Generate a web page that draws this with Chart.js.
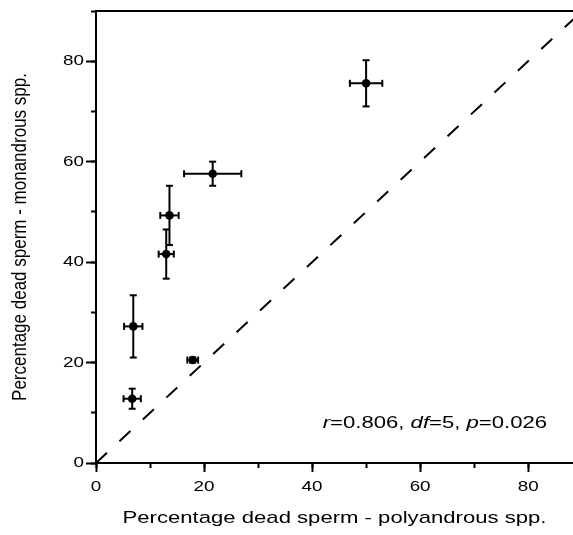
<!DOCTYPE html>
<html>
<head>
<meta charset="utf-8">
<script src="https://cdn.jsdelivr.net/npm/chart.js@4.4.1/dist/chart.umd.min.js"></script>
<style>
  html, body { margin: 0; padding: 0; background: #fff; }
  #grafico { display: block; }
</style>
</head>
<body>
<canvas id="grafico" width="573" height="535"></canvas>
<script>
// Espermatozoides mortos (%) — média e erro de cada par de espécies
const poliandricas = [50.0, 21.6, 13.6, 13.0, 6.9, 17.9, 6.7];
const monandricas  = [75.6, 57.6, 49.3, 41.6, 27.2, 20.5, 12.8];
const erroX = [3.0, 5.3, 1.7, 1.4, 1.7, 1.0, 1.6];
const erroY = [4.6, 2.4, 5.9, 4.9, 6.2, 0.5, 2.0];
const linhaIgual = [0, 90];          // reta y = x
const limiteX = [0, 88.3];
const limiteY = [0, 90];
const passoRotulo = 20;              // ticks com número
const passoMenor = 10;               // ticks intermediários

const FONTE = "'Liberation Sans', Arial, sans-serif";
const ESTICA = 1.3;       // no original o texto sai mais largo do que alto
const ESTICA_GIRADO = 1.15;

// Helper: estica o texto na horizontal da tela
const esticaTexto = {
  id: 'esticaTexto',
  beforeInit(chart) {
    const ctx = chart.ctx;
    const orig = ctx.fillText;
    ctx.fillText = function (txt, x, y) {
      const m = this.getTransform();
      this.save();
      this.translate(x, y);
      // texto girado (título do eixo y): o eixo local y é o x da tela
      if (Math.abs(m.b) > 0.5) this.scale(1, ESTICA_GIRADO);
      else this.scale(ESTICA, 1);
      orig.call(this, txt, 0, 0);
      this.restore();
    };
  }
};

// Linha de cima da moldura
const bordaTopo = {
  id: 'bordaTopo',
  afterDraw(chart) {
    const { ctx, chartArea: a } = chart;
    ctx.save();
    ctx.strokeStyle = '#000';
    ctx.lineWidth = 2;
    ctx.beginPath();
    ctx.moveTo(a.left, a.top);
    ctx.lineTo(a.right, a.top);
    ctx.stroke();
    ctx.restore();
  }
};

// Texto da correlação, com r, df e p em itálico
const anotacao = {
  id: 'anotacao',
  afterDraw(chart) {
    const { ctx, chartArea: a } = chart;
    const partes = [['r', true], ['=0.806, ', false], ['df', true], ['=5, ', false], ['p', true], ['=0.026', false]];
    const fonte = it => (it ? 'italic ' : '') + '17px ' + FONTE;
    ctx.save();
    ctx.fillStyle = '#000';
    ctx.textAlign = 'left';
    ctx.textBaseline = 'alphabetic';
    let total = 0;
    partes.forEach(([t, it]) => { ctx.font = fonte(it); total += ctx.measureText(t).width * ESTICA; });
    let x = a.right - 26 - total;
    const y = a.bottom - 35;
    partes.forEach(([t, it]) => {
      ctx.font = fonte(it);
      ctx.fillText(t, x, y);
      x += ctx.measureText(t).width * ESTICA;
    });
    ctx.restore();
  }
};

const datasets = [];

// Reta tracejada y = x
datasets.push({
  data: linhaIgual.map(v => ({ x: v, y: v })),
  showLine: true,
  borderColor: '#000',
  borderWidth: 2,
  borderDash: [15, 17],
  pointRadius: 0
});

// Barras de erro: cada uma é uma linha de dois pontos, o "ponto" vira a trava
poliandricas.forEach((x, i) => {
  const y = monandricas[i];
  const base = {
    showLine: true,
    borderColor: '#000',
    borderWidth: 2,
    pointStyle: 'line',
    pointRadius: 3.5,
    pointBorderWidth: 2,
    pointBorderColor: '#000'
  };
  datasets.push({ ...base, data: [{ x, y: y - erroY[i] }, { x, y: y + erroY[i] }], pointRotation: 0 });
  datasets.push({ ...base, data: [{ x: x - erroX[i], y }, { x: x + erroX[i], y }], pointRotation: 90 });
});

// Médias
datasets.push({
  data: poliandricas.map((x, i) => ({ x, y: monandricas[i] })),
  pointRadius: 4.3,
  pointBackgroundColor: '#000',
  pointBorderWidth: 0
});

const eixoMenor = (pos, lim, lado) => ({
  type: 'linear',
  position: pos,
  min: lim[0],
  max: lim[1],
  weight: 0,
  afterFit: s => { s[lado] = 0; },
  ticks: { stepSize: passoMenor, includeBounds: false, autoSkip: false, callback: () => '' },
  grid: { drawOnChartArea: false, tickLength: 5, tickWidth: 2, tickColor: '#000' },
  border: { display: false }
});

new Chart(document.getElementById('grafico'), {
  type: 'scatter',
  data: { datasets },
  plugins: [esticaTexto, bordaTopo, anotacao],
  options: {
    responsive: false,
    animation: false,
    events: [],
    layout: { autoPadding: false, padding: { top: 11, right: 0, left: 0, bottom: 0 } },
    plugins: { legend: { display: false }, tooltip: { enabled: false } },
    scales: {
      x: {
        type: 'linear',
        position: 'bottom',
        min: limiteX[0],
        max: limiteX[1],
        weight: 1,
        afterFit: s => { s.height = 72; },
        ticks: {
          stepSize: passoRotulo, includeBounds: false, autoSkip: false, maxRotation: 0,
          color: '#000', padding: 6, font: { family: FONTE, size: 14.5 }
        },
        grid: { drawOnChartArea: false, tickLength: 9, tickWidth: 2, tickColor: '#000' },
        border: { display: true, color: '#000', width: 2 },
        title: {
          display: true, text: 'Percentage dead sperm - polyandrous spp.', color: '#000',
          font: { family: FONTE, size: 17 }, padding: { top: 0, bottom: 6 }
        }
      },
      xMenor: eixoMenor('bottom', limiteX, 'height'),
      y: {
        type: 'linear',
        position: 'left',
        min: limiteY[0],
        max: limiteY[1],
        weight: 1,
        afterFit: s => { s.width = 96; },
        ticks: {
          stepSize: passoRotulo, includeBounds: false, autoSkip: false,
          color: '#000', padding: 2, font: { family: FONTE, size: 14.5 }
        },
        grid: { drawOnChartArea: false, tickLength: 10, tickWidth: 2, tickColor: '#000' },
        border: { display: true, color: '#000', width: 2 },
        title: {
          display: true, text: 'Percentage dead sperm - monandrous spp.', color: '#000',
          font: { family: FONTE, size: 17 }, padding: { top: 10, bottom: 0 }
        }
      },
      yMenor: eixoMenor('left', limiteY, 'width')
    }
  }
});
</script>
</body>
</html>
